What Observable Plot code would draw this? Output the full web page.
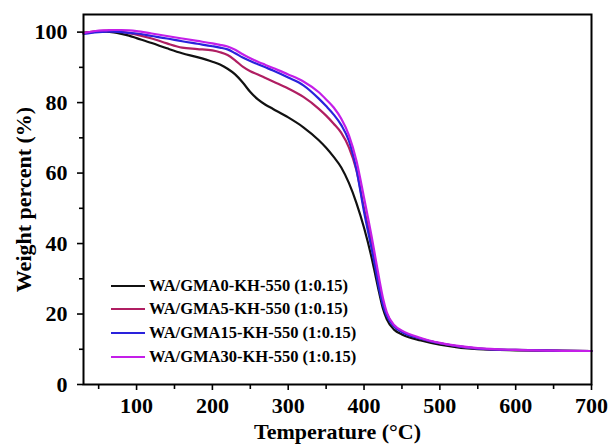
<!DOCTYPE html>
<html><head><meta charset="utf-8">
<script src="https://cdn.jsdelivr.net/npm/d3@7"></script>
<script src="https://cdn.jsdelivr.net/npm/@observablehq/plot@0.6"></script>
<style>
html,body{margin:0;padding:0;background:#fff;}
#wrap{position:relative;width:611px;height:444px;overflow:hidden;}
#legend{position:absolute;left:111px;top:274px;font:bold 16.5px "Liberation Serif","Times New Roman",serif;color:#000;}
.row{display:flex;align-items:center;height:23.6px;white-space:nowrap;}
.sw{width:34px;height:2px;margin-right:4px;}
</style></head><body><div id="wrap"></div>
<script>
const temps = [30,40,50,60,70,80,90,100,120,140,160,180,200,210,220,230,240,250,260,270,280,300,320,340,350,360,370,380,390,400,410,415,420,425,430,440,450,475,500,550,600,650,700];
const gma0  = [99.8,100.0,100.1,100.1,99.9,99.5,99.0,98.3,96.9,95.4,94.0,92.9,91.6,90.8,89.6,88.0,85.7,83.0,80.9,79.4,78.2,75.8,73.0,69.4,67.2,64.6,61.6,57.2,51.5,44.5,36.0,31.0,26.0,21.5,18.5,15.5,14.2,12.5,11.3,10.0,9.7,9.6,9.5];
const gma5  = [99.8,100.1,100.3,100.4,100.3,100.1,99.7,99.3,98.2,96.8,95.6,95.2,94.8,94.3,93.5,92.0,90.2,88.9,88.0,87.0,86.0,84.0,81.6,78.3,76.3,74.0,71.4,67.3,60.8,50.0,40.0,34.0,28.5,23.0,20.0,16.5,15.0,13.0,11.7,10.2,9.8,9.6,9.5];
const gma15 = [99.5,99.8,100.0,100.1,100.1,100.0,99.8,99.6,98.9,98.2,97.4,96.7,96.0,95.6,95.1,94.0,92.8,91.8,90.9,90.0,89.1,87.1,84.9,81.2,79.0,76.6,73.6,69.2,61.0,49.0,38.5,33.0,27.0,22.5,19.5,16.4,14.9,13.0,11.7,10.2,9.8,9.6,9.5];
const gma30 = [99.7,100.1,100.4,100.5,100.6,100.6,100.5,100.3,99.6,98.9,98.2,97.5,96.8,96.4,95.9,95.0,93.7,92.6,91.6,90.7,89.8,88.0,86.0,83.0,80.9,78.6,75.4,70.8,63.5,53.0,42.0,36.0,30.0,24.5,20.5,16.8,15.3,13.2,11.8,10.3,9.8,9.6,9.5];
const seriesNames = ["WA/GMA0-KH-550 (1:0.15)","WA/GMA5-KH-550 (1:0.15)","WA/GMA15-KH-550 (1:0.15)","WA/GMA30-KH-550 (1:0.15)"];
const seriesColors = ["#111111","#b01e62","#2a22dc","#c41ee8"];
const seriesValues = [gma0, gma5, gma15, gma30];
const xTicks = [100,200,300,400,500,600,700];
const xMinor = [50,150,250,350,450,550,650];
const yTicks = [0,20,40,60,80,100];
const yMinor = [10,30,50,70,90];

const data = [];
seriesNames.forEach((n,i)=> temps.forEach((t,j)=> data.push({series:n, T:t, W:seriesValues[i][j]})));

const chart = Plot.plot({
  width:611, height:444, marginLeft:83, marginRight:20, marginTop:14, marginBottom:60,
  style:{fontFamily:'"Liberation Serif", "Times New Roman", serif', fontWeight:'bold', fontSize:'22px', color:'#000', background:'#fff'},
  x:{domain:[30,700]},
  y:{domain:[0,105]},
  color:{domain:seriesNames, range:seriesColors},
  marks:[
    Plot.line(data,{x:"T",y:"W",z:"series",stroke:"series",strokeWidth:2.2,curve:"monotone-x"}),
    Plot.frame({stroke:"#000",strokeWidth:2}),
    Plot.axisX({ticks:xMinor, tickSize:5, tickFormat:()=>"", label:null, strokeWidth:1.6}),
    Plot.axisX({ticks:xTicks, tickSize:6, tickPadding:7, label:"Temperature (°C)", labelArrow:"none", labelAnchor:"center", labelOffset:54, strokeWidth:1.6, fontSize:22}),
    Plot.axisY({ticks:yMinor, tickSize:4, tickFormat:()=>"", label:null, strokeWidth:1.6}),
    Plot.axisY({ticks:yTicks, tickSize:6, tickPadding:10, label:"Weight percent (%)", labelArrow:"none", labelAnchor:"center", labelOffset:68, strokeWidth:1.6, fontSize:22})
  ]
});
const wrap = document.getElementById("wrap");
wrap.appendChild(chart);
const legend = document.createElement("div");
legend.id = "legend";
seriesNames.forEach((n,i)=>{
  const row = document.createElement("div"); row.className="row";
  const sw = document.createElement("div"); sw.className="sw"; sw.style.background = seriesColors[i];
  const tx = document.createElement("span"); tx.textContent = n;
  row.appendChild(sw); row.appendChild(tx); legend.appendChild(row);
});
wrap.appendChild(legend);
</script></body></html>
